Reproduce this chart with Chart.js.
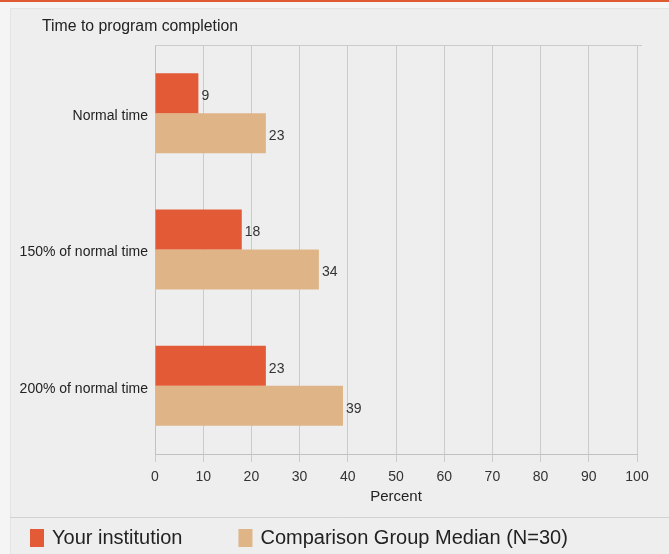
<!DOCTYPE html>
<html>
<head>
<meta charset="utf-8">
<script src="https://cdn.jsdelivr.net/npm/chart.js@4/dist/chart.umd.min.js"></script>
<style>
html,body{margin:0;padding:0;background:#f4f4f4;}
#wrap{width:669px;height:554px;position:relative;}
canvas{display:block;}
</style>
</head>
<body>
<div id="wrap"><canvas id="c" width="669" height="554"></canvas></div>
<script>
// ---- data ----
const chartTitle = 'Time to program completion';
const categories = ['Normal time', '150% of normal time', '200% of normal time'];
const seriesNames = ['Your institution', 'Comparison Group Median (N=30)'];
const yourInstitution = [9, 18, 23];
const comparisonMedian = [23, 34, 39];
const xTickValues = [0, 10, 20, 30, 40, 50, 60, 70, 80, 90, 100];
const xAxisTitle = 'Percent';

// ---- styles ----
const seriesColors = ['#e35b36', '#dfb587'];
const FONT = "'Liberation Sans', Arial, sans-serif";
const gridColor = '#cbcbcb';

const decorPlugin = {
  id: 'decor',
  beforeDraw(chart) {
    const ctx = chart.ctx;
    const W = chart.width, H = chart.height;
    ctx.save();
    ctx.fillStyle = '#f5f5f5';
    ctx.fillRect(0, 0, W, H);
    ctx.fillStyle = '#eeeeee';
    ctx.fillRect(10, 8, W - 10, H - 8);
    ctx.strokeStyle = '#e3e3e3';
    ctx.lineWidth = 1;
    ctx.strokeRect(10.5, 8.5, W - 10, H - 8);
    // top orange rule
    ctx.fillStyle = '#e05a34';
    ctx.fillRect(0, 0, W, 2);
    // chart title
    ctx.fillStyle = '#222';
    ctx.font = '15.8px ' + FONT;
    ctx.textBaseline = 'middle';
    ctx.textAlign = 'left';
    ctx.fillText(chartTitle, 42, 27);
    ctx.restore();
  },
  afterDraw(chart) {
    const ctx = chart.ctx;
    const a = chart.chartArea;
    ctx.save();
    // top frame line of plot area
    ctx.strokeStyle = gridColor;
    ctx.lineWidth = 1;
    ctx.beginPath();
    ctx.moveTo(a.left, Math.round(a.top) + 0.5);
    ctx.lineTo(a.right + 5, Math.round(a.top) + 0.5);
    ctx.stroke();
    // separator above legend
    ctx.strokeStyle = '#d2d2d2';
    ctx.beginPath();
    ctx.moveTo(10, 517.5);
    ctx.lineTo(chart.width, 517.5);
    ctx.stroke();
    // legend
    ctx.font = '20px ' + FONT;
    ctx.textBaseline = 'middle';
    ctx.textAlign = 'left';
    let x = 30;
    chart.data.datasets.forEach((ds) => {
      ctx.fillStyle = ds.backgroundColor;
      ctx.fillRect(x, 529, 14, 18);
      ctx.fillStyle = '#222';
      ctx.fillText(ds.label, x + 22, 538);
      x += 22 + ctx.measureText(ds.label).width + 56;
    });
    ctx.restore();
  },
  afterDatasetsDraw(chart) {
    const ctx = chart.ctx;
    ctx.save();
    ctx.font = '14px ' + FONT;
    ctx.fillStyle = '#333';
    ctx.textBaseline = 'middle';
    ctx.textAlign = 'left';
    chart.data.datasets.forEach((ds, di) => {
      const meta = chart.getDatasetMeta(di);
      meta.data.forEach((el, i) => {
        ctx.fillText(String(ds.data[i]), el.x + 3, el.y + 3);
      });
    });
    ctx.restore();
  }
};

new Chart(document.getElementById('c'), {
  type: 'bar',
  data: {
    labels: categories,
    datasets: [
      { label: seriesNames[0], data: yourInstitution, backgroundColor: seriesColors[0], borderWidth: 0 },
      { label: seriesNames[1], data: comparisonMedian, backgroundColor: seriesColors[1], borderWidth: 0 }
    ]
  },
  options: {
    indexAxis: 'y',
    responsive: false,
    animation: false,
    devicePixelRatio: 1,
    datasets: { bar: { categoryPercentage: 0.587, barPercentage: 1.0 } },
    layout: { padding: { left: 10, right: 32, top: 45, bottom: 40 } },
    plugins: {
      legend: { display: false },
      title: { display: false },
      tooltip: { enabled: false }
    },
    scales: {
      x: {
        type: 'linear',
        min: 0,
        max: 100,
        afterBuildTicks(scale) { scale.ticks = xTickValues.map(v => ({ value: v })); },
        afterFit(scale) { scale.height = 60; },
        grid: { color: gridColor, lineWidth: 1, tickLength: 8, drawTicks: true },
        border: { display: true, color: '#c2c2c2' },
        ticks: { color: '#333', font: { family: FONT, size: 14 }, padding: 7, maxRotation: 0, autoSkip: false },
        title: { display: true, text: xAxisTitle, color: '#222', font: { family: FONT, size: 15 }, padding: { top: 0, bottom: 8 } }
      },
      y: {
        type: 'category',
        afterFit(scale) { scale.width = 145; },
        grid: { display: false, drawTicks: false },
        border: { display: true, color: '#c2c2c2' },
        ticks: { color: '#222', font: { family: FONT, size: 14 }, padding: 7, labelOffset: 3 }
      }
    }
  },
  plugins: [decorPlugin]
});
</script>
</body>
</html>
